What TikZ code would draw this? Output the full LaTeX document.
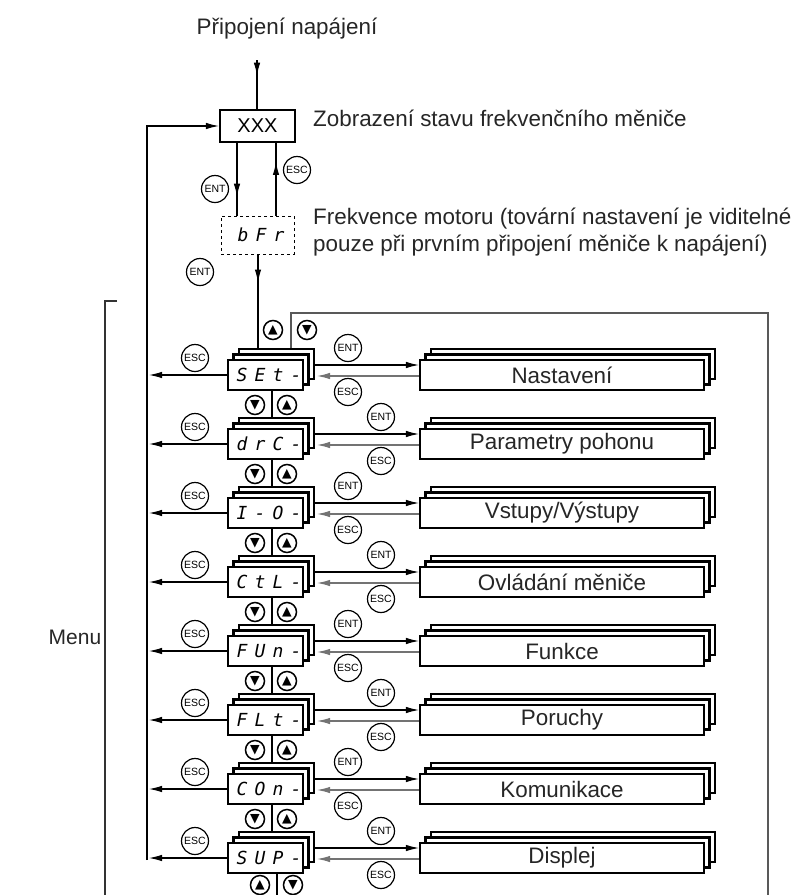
\documentclass[tikz,border=0pt]{standalone}
\usepackage{fontspec}
\setmainfont{Liberation Sans}
\newfontfamily\segfont[LetterSpace=40]{DejaVu Sans Mono}
\newfontfamily\symfont{DejaVu Sans}
\usetikzlibrary{arrows.meta,decorations.markings}
\begin{document}
\begin{tikzpicture}[x=1pt,y=-1pt,
  lab/.style={font=\fontsize{22.4}{27}\selectfont, text=black!85, inner sep=0},
  disp/.style={draw, line width=2.2pt, fill=white, minimum width=75pt, minimum height=30pt, inner sep=0, font=\fontsize{18}{18}\selectfont\segfont\itshape},
  menubox/.style={draw, line width=2.2pt, fill=white, minimum width=284pt, minimum height=30pt, inner sep=0, font=\fontsize{22.4}{22.4}\selectfont, text=black!85},
  keyc/.style={circle, draw, line width=1.2pt, minimum size=27pt, inner sep=0, font=\fontsize{10.5}{10.5}\selectfont},
  nav/.style={circle, draw, line width=1.5pt, minimum size=19pt, inner sep=0, font=\symfont\fontsize{12.5}{12.5}\selectfont},
  arr/.style={-{Latex[length=13pt,width=6.5pt]}},
  conn/.style={line width=1.1pt},
  midarrow/.style={postaction={decorate}, decoration={markings, mark=at position #1 with {\arrow{Latex[length=13pt,width=6.5pt]}}}},
]
\useasboundingbox (0,0) rectangle (795,895);

% top part
\node[lab] (pwr) at (287,29) {Připojení napájení};
\coordinate (pwrtop) at (257,60);
\node[draw, line width=2.2pt, minimum width=75pt, minimum height=32pt, inner sep=0, font=\fontsize{20}{20}\selectfont] (xxx) at (257.5,126) {XXX};
\draw[conn, midarrow=0.32] (pwrtop) -- (pwrtop |- xxx.north);
\node[lab, anchor=west] (stav) at (313,118) {Zobrazení stavu frekvenčního měniče};

\node[draw, dashed, line width=1pt, minimum width=73pt, minimum height=38pt, inner sep=0, font=\fontsize{18}{18}\selectfont\segfont\itshape] (bfr) at (257.5,235) {\hspace*{0.4em}bFr};
\node[lab, anchor=north west, align=left, font=\fontsize{22.4}{27}\selectfont] (frek) at (313,208) {Frekvence motoru (tovární nastavení je viditelné\\pouze při prvním připojení měniče k napájení)};

\draw[conn, midarrow=0.74] ([xshift=-20.5pt]xxx.south) -- ([xshift=-20.5pt]bfr.north);
\draw[conn, midarrow=0.74] ([xshift=18.5pt]bfr.north) -- ([xshift=18.5pt]xxx.south);
\node[keyc] (ent0) at (215,189) {ENT};
\node[keyc] (esc0) at (297,170) {ESC};
\node[keyc] (ent1) at (200,272) {ENT};

% stacks
\foreach \code/\menu/\k in {SEt-/Nastavení/0, drC-/Parametry pohonu/1, I-O-/Vstupy\slash Výstupy/2, CtL-/Ovládání měniče/3, FUn-/Funkce/4, FLt-/Poruchy/5, COn-/Komunikace/6, SUP-/Displej/7}{
  \pgfmathsetmacro\c{375+69*\k}
  \pgfmathsetmacro\xk{ifthenelse(mod(\k,2)==0,348,381)}
  \node[disp] (s\k c) at (276.5,\c-11) {};
  \node[disp] (s\k b) at (271,\c-5.5) {};
  \node[disp] (s\k) at (265.5,\c) {\hspace*{0.4em}\code};
  \node[menubox] (m\k c) at (573,\c-11) {};
  \node[menubox] (m\k b) at (567.5,\c-5.5) {};
  \node[menubox] (m\k) at (562,\c) {\menu};
  \node[keyc] (escl\k) at (195,\c-17) {ESC};
  \node[keyc] (entr\k) at (\xk,\c-27) {ENT};
  \node[keyc] (escr\k) at (\xk,\c+17) {ESC};
}

% left return line
\coordinate (lb) at (147,860);
\draw[conn, arr] (lb) |- (xxx.west);
\foreach \k in {0,...,7}{
  \draw[conn, arr] (s\k.west) -- ([xshift=2pt]lb |- s\k.west);
  \draw[conn, arr] ([yshift=-1pt]s\k c.east) -- ([yshift=-1pt]s\k c.east -| m\k.west);
  \draw[conn, arr, black!55] ([yshift=-1pt]m\k.west) -- ([yshift=-1pt,xshift=2pt]m\k.west -| s\k c.east);
}

% bFr to first stack
\draw[conn, midarrow=0.3] ([xshift=0.5pt]bfr.south) -- ([xshift=0.5pt]bfr.south |- s0c.north);

% up/down between rows
\foreach \k in {0,...,6}{
  \pgfmathtruncatemacro\kn{\k+1}
  \pgfmathsetmacro\c{375+69*\k}
  \draw[conn] ([xshift=6.5pt]s\k.south) -- ([xshift=6.5pt]s\k.south |- s\kn c.north);
  \node[nav] (dn\k) at (255,\c+30) {▼};
  \node[nav] (up\k) at (287,\c+30) {▲};
}
\node[nav] (uptop) at (273,330) {▲};
\node[nav] (dntop) at (307,330) {▼};
\node[nav] (upbot) at (260,885) {▲};
\node[nav] (dnbot) at (293,885) {▼};
\coordinate (botend) at (277,895);
\draw[conn] (botend |- s7.south) -- (botend);

% right loop
\coordinate (rl1) at (291,313);
\coordinate (rl2) at (768,313);
\coordinate (rl3) at (768,895);
\draw[conn, black!65] (s0c.north -| rl1) -- (rl1) -- (rl2) -- (rl3);

% bracket
\coordinate (br1) at (117,301);
\coordinate (br2) at (105,301);
\coordinate (br3) at (105,895);
\draw[conn, black!80] (br1) -- (br2) -- (br3);
\node[lab, font=\fontsize{21}{25}\selectfont] (menu) at (75,637) {Menu};
\end{tikzpicture}
\end{document}
